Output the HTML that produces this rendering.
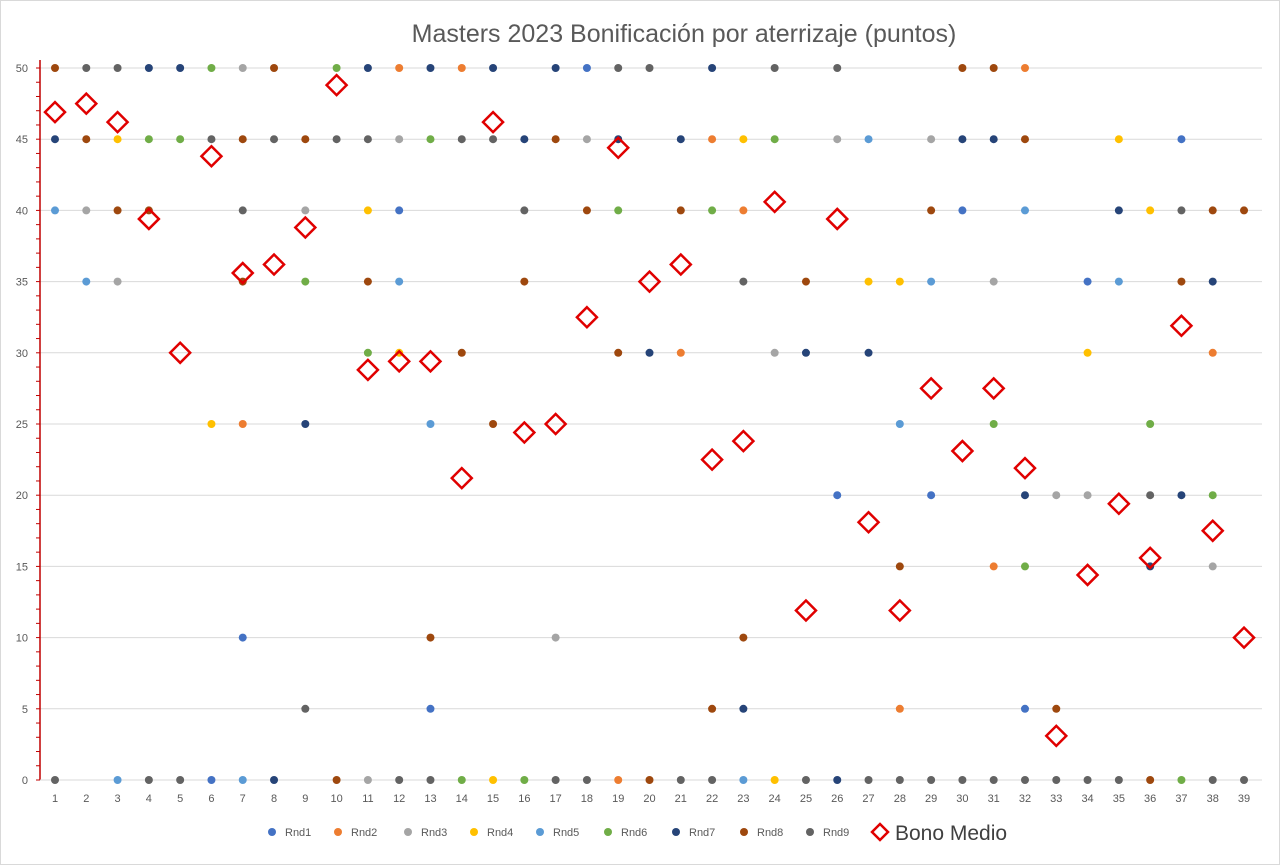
<!DOCTYPE html>
<html><head><meta charset="utf-8"><style>
html,body{margin:0;padding:0;background:#fff;}
svg{display:block;font-family:"Liberation Sans",sans-serif;}
</style></head><body>
<svg id="c" width="1281" height="866" xmlns="http://www.w3.org/2000/svg">
<rect x="0.5" y="0.5" width="1279" height="864" fill="#fff" stroke="#d9d9d9"/>
<text x="684" y="42" text-anchor="middle" font-size="25" fill="#595959">Masters 2023 Bonificación por aterrizaje (puntos)</text>
<g id="g"></g>
</svg>
<script>
var C={b:"#4472C4",o:"#ED7D31",g:"#A5A5A5",y:"#FFC000",l:"#5B9BD5",G:"#70AD47",n:"#264478",r:"#9E480E",d:"#636363"};
var data=[
["50r 45n 40l 0d",46.9],["50d 45r 40g 35l",47.5],["50d 45y 40r 35g 0l",46.2],["50n 45G 40r 0d",39.4],
["50n 45G 0d",30],["50G 45d 25y 0b",43.8],["50g 45r 40d 35r 25o 10b 0l",35.6],["50r 45d 0n",36.2],
["45r 40g 35G 25n 5d",38.8],["50G 45d 0r",48.8],["50n 45d 40y 35r 30G 0g",28.8],["50o 45g 40b 35l 30y 0d",29.4],
["50n 45G 25l 10r 5b 0d",29.4],["50o 45d 30r 0G",21.2],["50n 45d 25r 0y",46.2],["45n 40d 35r 0G",24.4],
["50n 45r 10g 0d",25],["50b 45g 40r 0d",32.5],["50d 45n 40G 30r 0o",44.4],["50d 30n 0r",35],
["45n 40r 30o 0d",36.2],["50n 45o 40G 5r 0d",22.5],["45y 40o 35d 10r 5n 0l",23.8],["50d 45G 30g 0y",40.6],
["35r 30n 0d",11.9],["50d 45g 20b 0n",39.4],["45l 35y 30n 0d",18.1],["35y 25l 15r 5o 0d",11.9],
["45g 40r 35l 20b 0d",27.5],["50r 45n 40b 0d",23.1],["50r 45n 35g 25G 15o 0d",27.5],["50o 45r 40l 20n 15G 5b 0d",21.9],
["20g 5r 0d",3.1],["35b 30y 20g 0d",14.4],["45y 40n 35l 0d",19.4],["40y 25G 20d 15n 0r",15.6],
["45b 40d 35r 20n 0G",31.9],["40r 35n 30o 20G 15g 0d",17.5],["40r 0d",10]];
function X(i){return 55+(i-1)*31.29;}function Y(v){return 780-v*14.24;}
var s="";
for(var v=0;v<=50;v+=5){var y=Y(v);if(v>0)s+='<line x1="40" x2="1262" y1="'+y+'" y2="'+y+'" stroke="#d9d9d9"/>';
s+='<text x="28" y="'+(y+4)+'" text-anchor="end" font-size="11" fill="#595959">'+v+'</text>';}
for(var v=0;v<=50;v++){var y=Y(v);s+='<line x1="36" x2="40" y1="'+y+'" y2="'+y+'" stroke="#c00000"/>';}
s+='<line x1="40" x2="40" y1="60" y2="780" stroke="#c00000" stroke-width="1.5"/>';
s+='<line x1="40" x2="1262" y1="780" y2="780" stroke="#d9d9d9"/>';
for(var i=1;i<=39;i++)s+='<text x="'+X(i)+'" y="802" text-anchor="middle" font-size="11" fill="#595959">'+i+'</text>';
data.forEach(function(d,k){var i=k+1;d[0].split(" ").forEach(function(t){var v=parseFloat(t),c=t.slice(-1);
s+='<circle cx="'+X(i)+'" cy="'+Y(v)+'" r="4" fill="'+C[c]+'"/>';});});
data.forEach(function(d,k){var x=X(k+1),y=Y(d[1]);
s+='<polygon points="'+x+','+(y-10)+' '+(x+10)+','+y+' '+x+','+(y+10)+' '+(x-10)+','+y+'" fill="none" stroke="#e00000" stroke-width="2.5"/>';});
var L=[["b","Rnd1",272],["o","Rnd2",338],["g","Rnd3",408],["y","Rnd4",474],["l","Rnd5",540],["G","Rnd6",608],["n","Rnd7",676],["r","Rnd8",744],["d","Rnd9",810]];
L.forEach(function(l){s+='<circle cx="'+l[2]+'" cy="832" r="4" fill="'+C[l[0]]+'"/><text x="'+(l[2]+13)+'" y="836" font-size="11" fill="#595959">'+l[1]+'</text>';});
s+='<polygon points="880,824 888,832 880,840 872,832" fill="none" stroke="#e00000" stroke-width="2.5"/><text x="895" y="840" font-size="21" fill="#404040">Bono Medio</text>';
document.getElementById("g").innerHTML=s;
</script>
</body></html>
